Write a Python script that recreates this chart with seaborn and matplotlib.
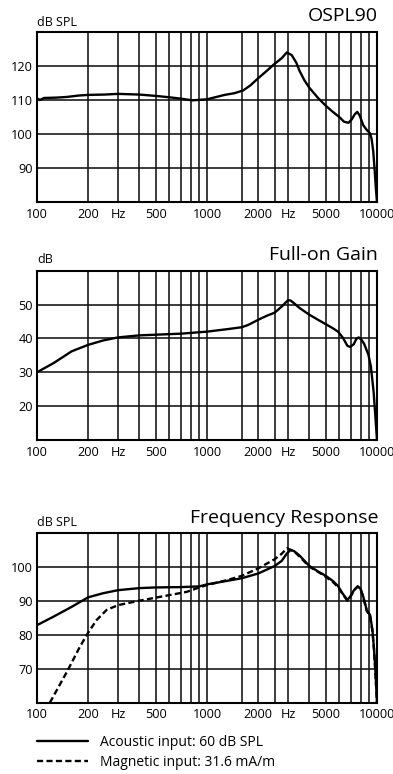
import matplotlib
matplotlib.use("Agg")
import matplotlib.pyplot as plt
import seaborn as sns

# ---- data -------------------------------------------------------------
ospl_freq = [100, 104, 110, 130, 150, 175, 200, 250, 300, 400, 500, 600, 700,
             820, 1000, 1270, 1450, 1630, 1800, 2000, 2250, 2480, 2750, 2950,
             3150, 3350, 3500, 3750, 4000, 4500, 5000, 5500, 6000, 6400, 6800,
             7100, 7400, 7650, 7900, 8300, 8700, 9100, 9300, 9500, 9700, 9850,
             10000]
ospl_db = [110.5, 110.0, 110.6, 110.7, 110.9, 111.3, 111.5, 111.6, 111.8,
           111.6, 111.2, 110.8, 110.4, 109.9, 110.2, 111.5, 112.0, 112.8,
           114.3, 116.4, 118.6, 120.5, 122.3, 124.0, 123.2, 121.0, 118.6,
           115.7, 113.6, 110.6, 108.3, 106.5, 105.0, 103.6, 103.3, 104.3,
           105.8, 106.5, 105.5, 102.6, 101.2, 100.2, 98.5, 95.0, 89.0, 84.0,
           80.0]

gain_freq = [100, 125, 160, 200, 245, 300, 400, 500, 700, 1000, 1300, 1600,
             1750, 2000, 2250, 2500, 2750, 3000, 3100, 3250, 3500, 4000, 4500,
             5000, 5500, 5900, 6300, 6700, 6950, 7300, 7550, 7800, 8100, 8400,
             8900, 9200, 9400, 9560, 9780, 10000]
gain_db = [30.0, 32.7, 36.2, 38.1, 39.4, 40.3, 40.9, 41.1, 41.4, 42.0, 42.7,
           43.3, 44.0, 45.5, 46.7, 47.6, 49.4, 51.3, 51.2, 50.4, 49.0, 47.0,
           45.5, 44.2, 43.0, 42.0, 40.2, 37.8, 37.5, 38.3, 39.8, 40.3, 39.6,
           38.4, 35.2, 31.8, 27.5, 24.0, 17.0, 10.0]

acoustic_freq = [100, 125, 160, 200, 245, 300, 400, 500, 700, 900, 1000, 1300,
                 1600, 2000, 2500, 2750, 2950, 3100, 3250, 3500, 4000, 4500,
                 5000, 5500, 5900, 6300, 6700, 7000, 7300, 7700, 8000, 8300,
                 8700, 9100, 9400, 9600, 9780, 10000]
acoustic_db = [82.8, 85.3, 88.2, 91.0, 92.2, 93.1, 93.7, 93.9, 94.0, 94.2,
               94.8, 95.8, 96.6, 98.0, 100.2, 101.7, 103.9, 104.9, 104.6,
               103.3, 100.2, 98.6, 97.3, 95.8, 94.3, 92.0, 90.2, 91.4, 93.0,
               94.2, 93.5, 91.2, 87.3, 85.8, 81.4, 76.0, 69.6, 60.0]

magnetic_freq = [119, 150, 179, 200, 224, 257, 300, 400, 500, 760, 900, 1000,
                 1300, 1600, 2000, 2500, 2750, 2950, 3100, 3250, 3500, 4000,
                 4500, 5000, 5500, 5900, 6300, 6700, 7000, 7300, 7700, 8000,
                 8300, 8700, 9100, 9400, 9600, 9780, 10000]
magnetic_db = [60.0, 69.1, 76.5, 80.6, 84.3, 87.3, 88.7, 90.0, 90.9, 92.6,
               93.9, 94.6, 96.0, 97.3, 99.5, 102.2, 103.8, 105.4, 105.0, 104.5,
               103.0, 100.0, 98.5, 97.0, 95.5, 94.0, 91.8, 90.0, 91.2, 93.0,
               94.2, 93.5, 91.0, 87.0, 85.5, 81.0, 75.5, 69.0, 60.0]

x_ticks = [100, 200, 300, 500, 1000, 2000, 3000, 5000, 10000]
x_tick_labels = ["100", "200", "Hz", "500", "1000", "2000", "Hz", "5000", "10000"]
x_grid = [400, 600, 700, 800, 900, 1600, 2500, 4000, 6000, 7000, 8000, 9000]

ospl_yticks = [90, 100, 110, 120]
gain_yticks = [20, 30, 40, 50]
fr_yticks = [70, 80, 90, 100]

legend_labels = ["Acoustic input: 60 dB SPL", "Magnetic input: 31.6 mA/m"]

# ---- style ------------------------------------------------------------
sns.set_theme(style="white")
plt.rcParams["font.family"] = ["Open Sans", "DejaVu Sans"]
plt.rcParams["text.color"] = "black"

W, H = 393, 774
fig = plt.figure(figsize=(W / 100, H / 100), dpi=100)


def px_axes(top, bottom, left=37, right=377):
    return fig.add_axes([left / W, 1 - bottom / H, (right - left) / W,
                         (bottom - top) / H])


def style_axes(ax, ylim, yticks):
    ax.set_xscale("log")
    ax.set_xlim(100, 10000)
    ax.set_ylim(*ylim)
    ax.set_xticks(x_ticks)
    ax.set_xticklabels(x_tick_labels)
    ax.set_xticks(x_grid, minor=True)
    ax.set_xticklabels([], minor=True)
    ax.set_yticks(yticks)
    ax.set_yticklabels([str(v) for v in yticks])
    ax.tick_params(axis="both", which="both", length=0, labelsize=9.2,
                   colors="black")
    ax.tick_params(axis="x", pad=4)
    ax.tick_params(axis="y", pad=3)
    ax.grid(False)
    ax.grid(True, axis="x", which="both", color="#111111", linewidth=1.15)
    ax.grid(True, axis="y", which="major", color="#111111", linewidth=1.15)
    ax.set_axisbelow(True)
    for s in ax.spines.values():
        s.set_visible(True)
        s.set_color("black")
        s.set_linewidth(1.5)
    ax.set_xlabel("")
    ax.set_ylabel("")


def header(title, unit, title_base, unit_base):
    fig.text(378 / W, 1 - title_base / H, title, ha="right", va="baseline",
             fontsize=14)
    fig.text(37 / W, 1 - unit_base / H, unit, ha="left", va="baseline",
             fontsize=9)


line_kw = dict(color="black", linewidth=1.7, sort=False, estimator=None)

# OSPL90
ax1 = px_axes(32, 202)
sns.lineplot(x=ospl_freq, y=ospl_db, ax=ax1, **line_kw)
style_axes(ax1, (80, 130), ospl_yticks)
header("OSPL90", "dB SPL", 21, 26)

# Full-on gain
ax2 = px_axes(270.7, 440)
sns.lineplot(x=gain_freq, y=gain_db, ax=ax2, **line_kw)
style_axes(ax2, (10, 60), gain_yticks)
header("Full-on Gain", "dB", 260, 263)

# Frequency response
ax3 = px_axes(532.7, 702.7)
sns.lineplot(x=acoustic_freq, y=acoustic_db, ax=ax3, label=legend_labels[0],
             **line_kw)
sns.lineplot(x=magnetic_freq, y=magnetic_db, ax=ax3, label=legend_labels[1],
             linestyle=(0, (2.6, 1.4)), **line_kw)
style_axes(ax3, (60, 110), fr_yticks)
header("Frequency Response", "dB SPL", 523, 526)

leg = ax3.legend(loc="upper left", bbox_to_anchor=(37 / W, 1 - 735 / H),
                 bbox_transform=fig.transFigure, frameon=False, fontsize=10,
                 handlelength=3.7, handletextpad=0.85, labelspacing=0.35,
                 borderaxespad=0, borderpad=0)
for t in leg.get_texts():
    t.set_color("black")

fig.savefig("out.png", dpi=100, facecolor="white")
